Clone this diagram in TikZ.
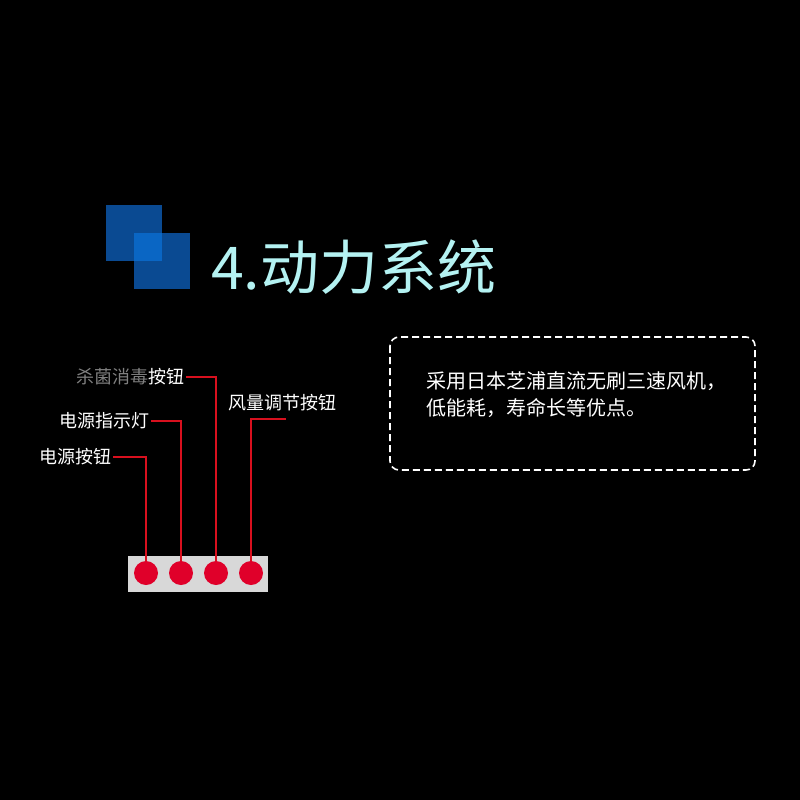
\documentclass[tikz,border=0pt]{standalone}
\usepackage{fontspec}
\setmainfont{Noto Sans CJK SC}
\usepackage{tikz}

\definecolor{bgblack}{HTML}{000000}
\definecolor{sqdark}{HTML}{0A4A92}
\definecolor{sqlight}{HTML}{0A66C4}
\definecolor{titlecyan}{HTML}{B4F2F2}
\definecolor{btnred}{HTML}{E0002A}
\definecolor{leadred}{HTML}{D8101E}
\definecolor{panelgray}{HTML}{D8D8D8}

\begin{document}
\begin{tikzpicture}[x=1pt,y=-1pt,
          every node/.style={inner sep=2pt,text=white},
          label/.style={anchor=west,font=\fontsize{18}{20}\selectfont},
          btn/.style={circle,fill=btnred,inner sep=0pt,minimum size=24pt},
          lead/.style={draw=leadred,line width=1.3pt}]
        % background and page size
        \fill[bgblack] (0,0) rectangle (800,800);
        \useasboundingbox (0,0) rectangle (800,800);
        % title mark
        \fill[sqdark] (106,205) rectangle (162,261);
        \fill[sqdark] (134,233) rectangle (190,289);
        \fill[sqlight] (134,233) rectangle (162,261);
        \node[anchor=west,text=titlecyan,font=\fontsize{59}{60}\selectfont]
          (title) at (209,267) {4.动力系统};
        % description box
        \draw[white,line width=1.6pt,dashed,dash pattern=on 7pt off 4pt,
          rounded corners=9pt] (390,337) rectangle (755,470);
        \node[anchor=north west,align=left,
          font=\fontsize{20}{27}\selectfont] (desc) at (424,369)
          {采用日本芝浦直流无刷三速风机，\\低能耗，寿命长等优点。};
        % button panel
        \fill[panelgray] (128,556) rectangle (268,592);
        \node[btn] (b1) at (146,573) {};
        \node[btn] (b2) at (181,573) {};
        \node[btn] (b3) at (216,573) {};
        \node[btn] (b4) at (251,573) {};
        % labels
        \node[label] (l1) at (37,457) {电源按钮};
        \node[label] (l2) at (57,421) {电源指示灯};
        \node[label] (l3) at (74,377) {{\color{gray}杀菌消毒}按钮};
        \node[label] (l4) at (226,403) {风量调节按钮};
        \coordinate (c4) at (286,419);
        % leader lines
        \draw[lead] (l1.east) -- (l1.east -| b1) -- (b1.north);
        \draw[lead] (l2.east) -- (l2.east -| b2) -- (b2.north);
        \draw[lead] (l3.east) -- (l3.east -| b3) -- (b3.north);
        \draw[lead] (c4) -- (c4 -| b4) -- (b4.north);
      \end{tikzpicture}
\end{document}
